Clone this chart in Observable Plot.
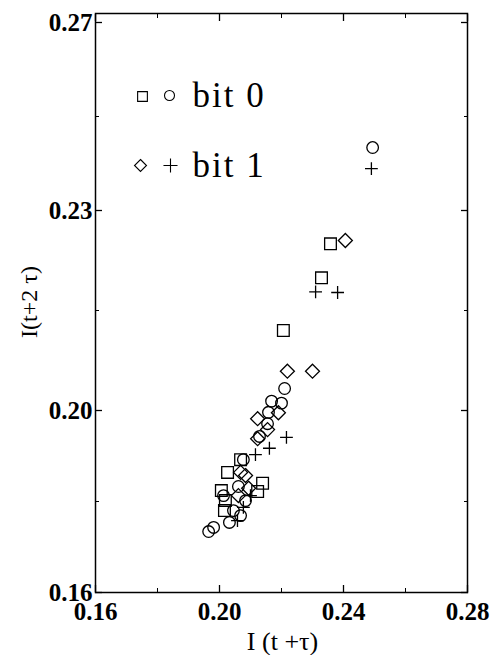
<!DOCTYPE html>
<html>
<head>
<meta charset="utf-8">
<script src="https://cdn.jsdelivr.net/npm/d3@7"></script>
<script src="https://cdn.jsdelivr.net/npm/@observablehq/plot@0.6"></script>
<style>
  html, body { margin: 0; padding: 0; background: #fff; }
</style>
</head>
<body>
<div id="chart"></div>
<script>
// ---- data ----
// bit 0 : squares and circles
const squareX = [0.2358, 0.2329, 0.2206, 0.2026, 0.2006, 0.2016, 0.2139, 0.2123, 0.2019, 0.2068];
const squareY = [0.2250, 0.2199, 0.2120, 0.1864, 0.1824, 0.1780, 0.1840, 0.1822, 0.1802, 0.1892];
const circleX = [0.2494, 0.2210, 0.2168, 0.2200, 0.2158, 0.2155, 0.2129, 0.2077, 0.2061, 0.2013, 0.2045, 0.2032, 0.1981, 0.1965, 0.2084, 0.2068];
const circleY = [0.2434, 0.2033, 0.2014, 0.2011, 0.1996, 0.1971, 0.1943, 0.1892, 0.1833, 0.1813, 0.1780, 0.1754, 0.1743, 0.1734, 0.1802, 0.1769];
// bit 1 : diamonds and plus signs
const diamondX = [0.2406, 0.2219, 0.2300, 0.2123, 0.2190, 0.2155, 0.2123, 0.2068, 0.2084, 0.2061, 0.2094];
const diamondY = [0.2255, 0.2059, 0.2059, 0.1982, 0.1995, 0.1958, 0.1938, 0.1864, 0.1857, 0.1813, 0.1829];
const plusX = [0.2490, 0.2310, 0.2381, 0.2216, 0.2161, 0.2116, 0.2077, 0.2100, 0.2058];
const plusY = [0.2389, 0.2178, 0.2177, 0.1941, 0.1917, 0.1903, 0.1787, 0.1813, 0.1758];

// axes
const xTicks = [0.16, 0.20, 0.24, 0.28];
const xMinor = [0.18, 0.22, 0.26];
const yTicks = [0.16, 0.20, 0.23, 0.27];
const yMinor = [0.18, 0.215, 0.25];
const xLabel = "I (t +τ)";
const yLabel = "I(t+2 τ)";
const legendLabels = ["bit 0", "bit 1"];

const pts = (xs, ys) => xs.map((x, i) => ({x, y: ys[i]}));

const serif = "'Liberation Serif', 'Times New Roman', serif";
const tickFont = {fontSize: 25, fontWeight: "bold", fontFamily: serif, fill: "#000"};
const blank = () => "";
const dotStyle = {stroke: "#000", strokeWidth: 1.3, fill: "none"};

const chart = Plot.plot({
  width: 497,
  height: 655,
  marginLeft: 95,
  marginRight: 30,
  marginTop: 13,
  marginBottom: 63,
  style: {background: "#fff", fontFamily: serif, color: "#000"},
  x: {domain: [0.16, 0.28]},
  // the printed axis is piecewise: ticks 0.16, 0.20, 0.23, 0.27 at nearly even spacing
  y: {type: "linear", domain: [0.16, 0.20, 0.23, 0.27, 0.2719], range: [592, 410, 210, 22, 13]},
  marks: [
    Plot.frame({stroke: "#000", strokeWidth: 1.5}),
    // inward tick marks on all four sides
    Plot.axisX(xTicks, {anchor: "bottom", tickSize: -7, tickFormat: blank, label: null, strokeWidth: 1.3}),
    Plot.axisX(xTicks, {anchor: "top", tickSize: -7, tickFormat: blank, label: null, strokeWidth: 1.3}),
    Plot.axisX(xMinor, {anchor: "bottom", tickSize: -4, tickFormat: blank, label: null}),
    Plot.axisX(xMinor, {anchor: "top", tickSize: -4, tickFormat: blank, label: null}),
    Plot.axisY(yTicks, {anchor: "left", tickSize: -7, tickFormat: blank, label: null, strokeWidth: 1.3}),
    Plot.axisY(yTicks, {anchor: "right", tickSize: -7, tickFormat: blank, label: null, strokeWidth: 1.3}),
    Plot.axisY(yMinor, {anchor: "left", tickSize: -4, tickFormat: blank, label: null}),
    Plot.axisY(yMinor, {anchor: "right", tickSize: -4, tickFormat: blank, label: null}),
    // tick labels
    Plot.axisX(xTicks, {anchor: "bottom", tickSize: 0, tickPadding: 10, tickFormat: ".2f", label: null, ...tickFont}),
    Plot.axisY(yTicks, {anchor: "left", tickSize: 0, tickPadding: 3, tickFormat: ".2f", label: null, ...tickFont}),
    // axis titles
    Plot.text([xLabel], {frameAnchor: "bottom", dx: 1, dy: 49, textAnchor: "middle", lineAnchor: "middle", fontSize: 26, fontFamily: serif, fill: "#000"}),
    Plot.text([yLabel], {frameAnchor: "left", dx: -66, dy: -1, rotate: -90, textAnchor: "middle", lineAnchor: "middle", fontSize: 24, fontFamily: serif, fill: "#000"}),
    // data
    Plot.dot(pts(squareX, squareY), {x: "x", y: "y", symbol: "square", r: 6.6, ...dotStyle}),
    Plot.dot(pts(circleX, circleY), {x: "x", y: "y", symbol: "circle", r: 5.8, ...dotStyle}),
    Plot.dot(pts(diamondX, diamondY), {x: "x", y: "y", symbol: "diamond2", r: 6.3, ...dotStyle}),
    Plot.dot(pts(plusX, plusY), {x: "x", y: "y", symbol: "plus", r: 4.2, ...dotStyle}),
    // legend (inside the frame, top-left)
    Plot.dot([0], {frameAnchor: "top-left", dx: 47, dy: 83, symbol: "square", r: 5.5, ...dotStyle, strokeWidth: 1.1}),
    Plot.dot([0], {frameAnchor: "top-left", dx: 74, dy: 82, symbol: "circle", r: 5, ...dotStyle, strokeWidth: 1.1}),
    Plot.dot([0], {frameAnchor: "top-left", dx: 45, dy: 152, symbol: "diamond2", r: 5.4, ...dotStyle, strokeWidth: 1.1}),
    Plot.dot([0], {frameAnchor: "top-left", dx: 75, dy: 152, symbol: "plus", r: 4.6, ...dotStyle, strokeWidth: 1.1}),
    Plot.text([legendLabels[0]], {frameAnchor: "top-left", dx: 97, dy: 82, textAnchor: "start", lineAnchor: "middle", fontSize: 35, fontFamily: serif, fill: "#000"}),
    Plot.text([legendLabels[1]], {frameAnchor: "top-left", dx: 97, dy: 152, textAnchor: "start", lineAnchor: "middle", fontSize: 35, fontFamily: serif, fill: "#000"})
  ]
});
// the printed legend lettering is a little wider than the font's
d3.select(chart).selectAll("text")
  .filter(function() { return legendLabels.includes(this.textContent); })
  .attr("letter-spacing", "2px");
document.getElementById("chart").appendChild(chart);
</script>
</body>
</html>
